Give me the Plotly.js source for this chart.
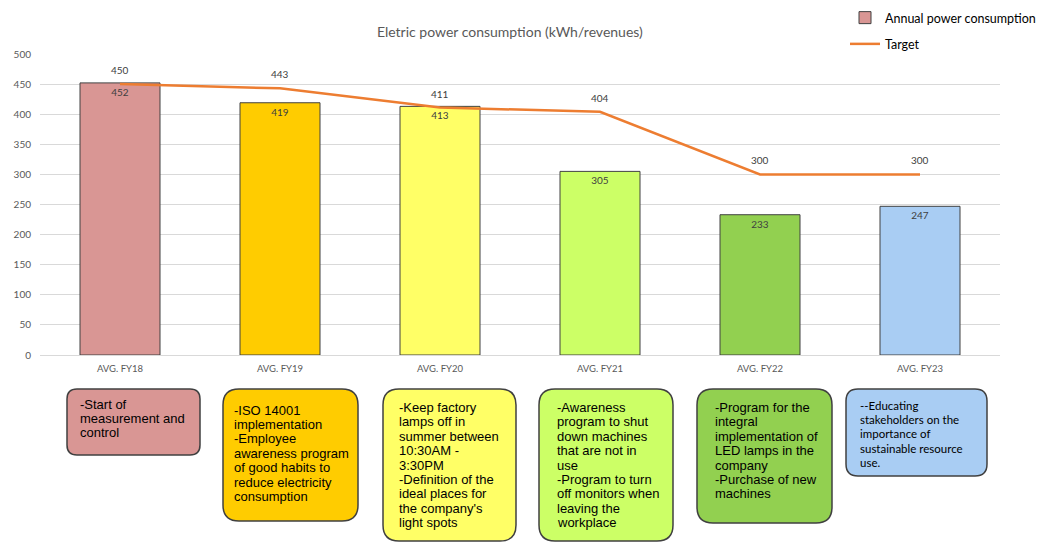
<!DOCTYPE html>
<html>
<head>
<meta charset="utf-8">
<script src="https://cdn.plot.ly/plotly-3.0.1.min.js"></script>
<style>html,body{margin:0;padding:0;background:#fff;}#chart{width:1042px;height:543px;}</style>
</head>
<body>
<div id="chart"></div>
<script>
// ---- data ----
const categories = ["AVG. FY18", "AVG. FY19", "AVG. FY20", "AVG. FY21", "AVG. FY22", "AVG. FY23"];
const consumption = [452, 419, 413, 305, 233, 247];
const target = [450, 443, 411, 404, 300, 300];
const barColors = ["#D99694", "#FFCC00", "#FFFF66", "#CCFF66", "#92D050", "#A9CDF3"];
const yTicks = [0, 50, 100, 150, 200, 250, 300, 350, 400, 450, 500];
const notes = [
  ["-Start of", "measurement and", "control"],
  ["-ISO 14001", "implementation", "-Employee", "awareness program", "of good habits to", "reduce electricity", "consumption"],
  ["-Keep factory", "lamps off in", "summer between", "10:30AM -", "3:30PM", "-Definition of the", "ideal places for", "the company's", "light spots"],
  ["-Awareness", "program to shut", "down machines", "that are not in", "use", "-Program to turn", "off monitors when", "leaving the", "workplace"],
  ["-Program for the", "integral", "implementation of", "LED lamps in the", "company", "-Purchase of new", "machines"],
  ["--Educating", "stakeholders on the", "importance of", "sustainable resource", "use."]
];

// ---- layout geometry (pixels) ----
const W = 1042, H = 543;
const M = {l: 40, r: 42, t: 54, b: 188, autoexpand: false};
const PW = W - M.l - M.r, PH = H - M.t - M.b;
const px = x => (x - M.l) / PW;
const py = y => (H - M.b - y) / PH;

// boxes: [x0, y0, x1, y1, radius, textX, firstLineCenterY, fontFamily, fontSize]
const boxes = [
  [67, 389, 200, 455, 10, 78, 404, "Liberation Sans, Arial, sans-serif", 13],
  [223, 389, 358, 521, 16, 232, 410, "Liberation Sans, Arial, sans-serif", 13],
  [383, 389, 516, 541, 16, 397, 407.5, "Liberation Sans, Arial, sans-serif", 13],
  [539, 389, 673, 541, 16, 555, 407.5, "Liberation Sans, Arial, sans-serif", 13],
  [697, 389, 832, 523, 16, 713, 407.5, "Liberation Sans, Arial, sans-serif", 13],
  [846, 389, 987, 476, 12, 858, 405, "Lato, sans-serif", 11.5]
];
const lineStep = 14.4;

function roundRect(x0, y0, x1, y1, r) {
  const X0 = px(x0), X1 = px(x1), Y0 = py(y0), Y1 = py(y1);
  const rx = r / PW, ry = r / PH;
  return `M ${X0 + rx},${Y0} L ${X1 - rx},${Y0} Q ${X1},${Y0} ${X1},${Y0 - ry} ` +
         `L ${X1},${Y1 + ry} Q ${X1},${Y1} ${X1 - rx},${Y1} ` +
         `L ${X0 + rx},${Y1} Q ${X0},${Y1} ${X0},${Y1 + ry} ` +
         `L ${X0},${Y0 - ry} Q ${X0},${Y0} ${X0 + rx},${Y0} Z`;
}

const shapes = [];
const annotations = [];
boxes.forEach((b, i) => {
  shapes.push({
    type: "path", xref: "paper", yref: "paper",
    path: roundRect(b[0], b[1], b[2], b[3], b[4]),
    fillcolor: barColors[i], line: {color: "#404040", width: 1.5}, layer: "above"
  });
  notes[i].forEach((t, k) => {
    annotations.push({
      xref: "paper", yref: "paper", x: px(b[5]), y: py(b[6] + k * lineStep),
      xanchor: "left", yanchor: "middle", showarrow: false, align: "left",
      text: t, font: {family: b[7], size: b[8], color: "#000"}
    });
  });
});

// target value labels above the line points
target.forEach((v, i) => {
  annotations.push({
    xref: "x", yref: "y", x: categories[i], y: v, yshift: 14,
    xanchor: "center", yanchor: "middle", showarrow: false,
    text: String(v), font: {family: "Lato, sans-serif", size: 10, color: "#404040"}
  });
});

const traces = [
  {
    type: "bar", name: "Annual power consumption", legendgroup: "a",
    x: categories, y: consumption,
    marker: {color: barColors, line: {color: "#404040", width: 1}},
    width: 0.5,
    text: consumption.map(String), textposition: "inside", insidetextanchor: "end",
    textfont: {family: "Lato, sans-serif", size: 10, color: "#404040"},
    cliponaxis: false, hoverinfo: "skip"
  },
  {
    type: "scatter", mode: "lines", name: "Target", legendgroup: "b",
    x: categories, y: target,
    line: {color: "#ED7D31", width: 2.5},
    cliponaxis: false, hoverinfo: "skip"
  }
];

const layout = {
  width: W, height: H,
  margin: M,
  paper_bgcolor: "#fff", plot_bgcolor: "#fff",
  showlegend: true,
  legend: {
    x: px(845), y: py(3), xanchor: "left", yanchor: "top",
    font: {family: "Lato, sans-serif", size: 12.5, color: "#000"},
    bgcolor: "rgba(0,0,0,0)", traceorder: "grouped", tracegroupgap: 7
  },
  title: {
    text: "Eletric power consumption (kWh/revenues)",
    x: 510 / W, xanchor: "center", xref: "paper", y: 1 - 32 / H, yanchor: "middle",
    font: {family: "Lato, sans-serif", size: 14, color: "#595959"}
  },
  xaxis: {
    type: "category", categoryorder: "array", categoryarray: categories,
    range: [-0.5, 5.5], showgrid: false, zeroline: false,
    showline: true, linecolor: "#D9D9D9", linewidth: 1, ticks: "",
    ticklabelstandoff: 5,
    tickfont: {family: "Lato, sans-serif", size: 9.5, color: "#595959"},
    fixedrange: true
  },
  yaxis: {
    range: [0, 500], tickvals: yTicks, ticktext: yTicks.map(String),
    showgrid: true, gridcolor: "#D9D9D9", gridwidth: 1, zeroline: false,
    showline: false, ticks: "", ticklabelstandoff: 8,
    tickfont: {family: "Lato, sans-serif", size: 10, color: "#595959"},
    fixedrange: true
  },
  bargap: 0.5,
  shapes: shapes,
  annotations: annotations
};

Plotly.newPlot("chart", traces, layout, {displayModeBar: false, staticPlot: true});
</script>
</body>
</html>
